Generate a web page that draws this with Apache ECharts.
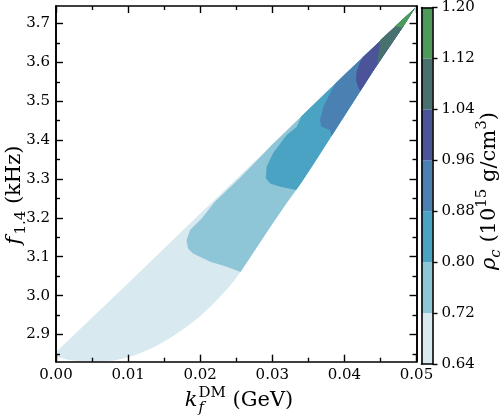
<!DOCTYPE html>
<html>
<head>
<meta charset="utf-8">
<script src="https://cdn.jsdelivr.net/npm/echarts@6/dist/echarts.min.js"></script>
<style>
  html, body { margin: 0; padding: 0; background: #fff; }
  #chart { width: 500px; height: 418px; }
</style>
</head>
<body>
<div id="chart"></div>
<script>
// colour bar levels of rho_c (10^15 g/cm^3)
var levelBounds = [0.64, 0.72, 0.80, 0.88, 0.96, 1.04, 1.12, 1.20];
var levelColors = ['#d8eaf0', '#8ec6d8', '#4ba3c3', '#4a80b2', '#4b5399', '#47706f', '#4c9b5a'];

// tick values
var yMajorTicks = [2.9, 3.0, 3.1, 3.2, 3.3, 3.4, 3.5, 3.6, 3.7];
var yMinorTicks = [2.85, 2.95, 3.05, 3.15, 3.25, 3.35, 3.45, 3.55, 3.65];

// outer edges of the filled region, [k_f (GeV), f_1.4 (kHz)]
var upperEdge = [[0, 2.855], [0.01, 3.032], [0.02, 3.211], [0.03, 3.389], [0.04, 3.568], [0.0498, 3.740]];
var lowerEdge = [[0, 2.8423], [0.002, 2.8335], [0.004, 2.8302], [0.006, 2.830], [0.008, 2.8328],
  [0.010, 2.841], [0.012, 2.854], [0.014, 2.871], [0.016, 2.893], [0.018, 2.918], [0.020, 2.947],
  [0.022, 2.982], [0.024, 3.022], [0.025, 3.045], [0.026, 3.072], [0.027, 3.100], [0.028, 3.128],
  [0.030, 3.184], [0.032, 3.238], [0.034, 3.290], [0.036, 3.346], [0.038, 3.404], [0.040, 3.462],
  [0.042, 3.520], [0.044, 3.578], [0.046, 3.633], [0.048, 3.688], [0.0498, 3.740]];

// contour lines between levels, each from the lower edge to the upper edge
var edge072 = [[0.0256, 3.061], [0.0237, 3.074], [0.0214, 3.0869], [0.0190, 3.1085], [0.0183, 3.1214],
  [0.0181, 3.1427], [0.0186, 3.1685], [0.0203, 3.200], [0.0220, 3.2405], [0.0255, 3.3023], [0.0285, 3.360]];
var edge080 = [[0.0333, 3.272], [0.0311, 3.280], [0.0297, 3.2887], [0.0291, 3.3016], [0.0292, 3.3314],
  [0.0301, 3.366], [0.0320, 3.413], [0.0334, 3.4344], [0.0340, 3.4606]];
var edge088 = [[0.0382, 3.410], [0.0380, 3.4259], [0.0368, 3.4344], [0.0366, 3.4516], [0.0371, 3.4858],
  [0.0380, 3.5203], [0.0388, 3.5463]];
var edge096 = [[0.0422, 3.526], [0.0419, 3.5373], [0.0416, 3.5546], [0.0417, 3.5759], [0.0421, 3.5976], [0.0425, 3.6124]];
var edge104 = [[0.0445, 3.592], [0.0446, 3.6112], [0.0448, 3.6318], [0.0450, 3.6579]];
var edge112 = [[0.0481, 3.690], [0.0470, 3.6927]];

var tipX = 0.0498;

function region(edge) {
  var x0 = edge[0][0], x1 = edge[edge.length - 1][0];
  var pts = edge.slice();
  upperEdge.forEach(function (p) { if (p[0] > x1) pts.push(p); });
  lowerEdge.slice().reverse().forEach(function (p) {
    if (p[0] > x0 && p[0] < tipX) pts.push(p);
  });
  return pts;
}

var regions = [
  lowerEdge.concat(upperEdge.slice().reverse()),
  region(edge072), region(edge080), region(edge088),
  region(edge096), region(edge104), region(edge112)
];

var black = '#000';
var font = 'DejaVu Serif';

// text pieces laid out one after the other, centred on 0
var measureCtx = document.createElement('canvas').getContext('2d');
function label(pieces) {
  var x = 0, children = [];
  pieces.forEach(function (p) {
    var style = p.italic ? 'italic' : 'normal';
    measureCtx.font = style + ' ' + p.size + 'px "' + font + '"';
    var w = measureCtx.measureText(p.t).width;
    children.push({
      type: 'text', x: x + (p.dx || 0), y: p.dy || 0,
      style: {
        text: p.t, fontSize: p.size, fontFamily: font, fontStyle: style, fill: black,
        align: 'left', verticalAlign: 'middle', textAlign: 'left', textVerticalAlign: 'middle'
      }
    });
    if (!p.stack) x += w + (p.dx || 0);
  });
  children.forEach(function (c) { c.x -= x / 2; });
  return children;
}

function spine() {
  return { show: true, onZero: false, lineStyle: { color: black, width: 1.6 } };
}
function ticks(len, values) {
  var t = { show: true, inside: true, length: len, lineStyle: { color: black, width: 1.4 } };
  if (values) t.customValues = values;
  return t;
}
var tickText = { fontFamily: font, fontSize: 15, color: black };

var chart = echarts.init(document.getElementById('chart'));

chart.setOption({
  animation: false,
  grid: [
    { left: 56, top: 6, width: 360.5, height: 355.7 },
    { left: 421.5, top: 6, width: 11, height: 358 }
  ],
  xAxis: [
    {
      gridIndex: 0, type: 'value', min: 0, max: 0.05, interval: 0.01, position: 'bottom', z: 5,
      axisLine: spine(), axisTick: ticks(7),
      minorTick: { show: true, splitNumber: 2, length: 4, lineStyle: { color: black, width: 1.4 } },
      axisLabel: Object.assign({ margin: 6, formatter: function (v) { return v.toFixed(2); } }, tickText),
      splitLine: { show: false }
    },
    {
      gridIndex: 0, type: 'value', min: 0, max: 0.05, interval: 0.01, position: 'top', z: 5,
      axisLine: spine(), axisTick: ticks(7),
      minorTick: { show: true, splitNumber: 2, length: 4, lineStyle: { color: black, width: 1.4 } },
      axisLabel: { show: false }, splitLine: { show: false }
    },
    {
      gridIndex: 1, type: 'value', min: 0, max: 1, position: 'bottom', z: 5,
      axisLine: spine(), axisTick: { show: false }, axisLabel: { show: false }, splitLine: { show: false }
    },
    {
      gridIndex: 1, type: 'value', min: 0, max: 1, position: 'top', z: 5,
      axisLine: spine(), axisTick: { show: false }, axisLabel: { show: false }, splitLine: { show: false }
    }
  ],
  yAxis: [
    {
      gridIndex: 0, type: 'value', min: 2.83, max: 3.745, position: 'left', z: 5,
      axisLine: spine(), axisTick: ticks(7, yMajorTicks),
      axisLabel: Object.assign({
        margin: 6, customValues: yMajorTicks,
        formatter: function (v) { return v.toFixed(1); }
      }, tickText),
      splitLine: { show: false }
    },
    {
      gridIndex: 0, type: 'value', min: 2.83, max: 3.745, position: 'left', z: 5,
      axisLine: spine(), axisTick: ticks(4, yMinorTicks),
      axisLabel: { show: false }, splitLine: { show: false }
    },
    {
      gridIndex: 0, type: 'value', min: 2.83, max: 3.745, position: 'right', z: 5,
      axisLine: spine(), axisTick: ticks(7, yMajorTicks),
      axisLabel: { show: false }, splitLine: { show: false }
    },
    {
      gridIndex: 0, type: 'value', min: 2.83, max: 3.745, position: 'right', z: 5,
      axisLine: spine(), axisTick: ticks(4, yMinorTicks),
      axisLabel: { show: false }, splitLine: { show: false }
    },
    {
      gridIndex: 1, type: 'value', min: 0.64, max: 1.20, interval: 0.08, position: 'right', z: 5,
      axisLine: spine(),
      axisTick: { show: true, inside: false, length: 5, lineStyle: { color: black, width: 1.4 } },
      axisLabel: Object.assign({ margin: 9, formatter: function (v) { return v.toFixed(2); } }, tickText),
      splitLine: { show: false }
    },
    {
      gridIndex: 1, type: 'value', min: 0.64, max: 1.20, position: 'left', z: 5,
      axisLine: spine(), axisTick: { show: false }, axisLabel: { show: false }, splitLine: { show: false }
    }
  ],
  series: [
    {
      type: 'custom', xAxisIndex: 0, yAxisIndex: 0, clip: true, silent: true, z: 1,
      data: regions.map(function (r, i) { return [i]; }),
      renderItem: function (params, api) {
        var i = api.value(0);
        var pts = regions[i].map(function (p) { return api.coord(p); });
        return { type: 'polygon', shape: { points: pts }, style: { fill: levelColors[i] } };
      }
    },
    {
      type: 'custom', xAxisIndex: 2, yAxisIndex: 4, silent: true, z: 1,
      data: levelColors.map(function (c, i) { return [levelBounds[i], levelBounds[i + 1], i]; }),
      renderItem: function (params, api) {
        var lo = api.coord([0, api.value(0)]);
        var hi = api.coord([1, api.value(1)]);
        return {
          type: 'rect',
          shape: { x: lo[0], y: hi[1], width: hi[0] - lo[0], height: lo[1] - hi[1] },
          style: { fill: levelColors[api.value(2)] }
        };
      }
    }
  ],
  graphic: [
    {
      type: 'group', x: 239, y: 401,
      children: label([
        { t: 'k', size: 21, italic: true },
        { t: 'f', size: 15, italic: true, dy: 7, dx: 1, stack: true },
        { t: 'DM', size: 15, dy: -8, dx: 1 },
        { t: ' (GeV)', size: 21 }
      ])
    },
    {
      type: 'group', x: 15, y: 195, rotation: Math.PI / 2,
      children: label([
        { t: 'f', size: 21, italic: true },
        { t: '1.4', size: 15, dy: 6, dx: 2 },
        { t: ' (kHz)', size: 21 }
      ])
    },
    {
      type: 'group', x: 490, y: 191, rotation: Math.PI / 2,
      children: label([
        { t: 'ρ', size: 21, italic: true },
        { t: 'c', size: 15, italic: true, dy: 6 },
        { t: ' (10', size: 21 },
        { t: '15', size: 15, dy: -8 },
        { t: ' g/cm', size: 21 },
        { t: '3', size: 15, dy: -8 },
        { t: ')', size: 21 }
      ])
    }
  ]
});
</script>
</body>
</html>
